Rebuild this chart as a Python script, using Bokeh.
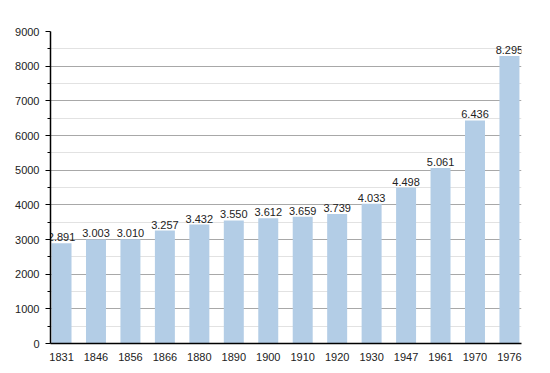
from bokeh.plotting import figure
from bokeh.models import ColumnDataSource, FixedTicker, Range1d
from bokeh.embed import file_html
from bokeh.resources import INLINE
from bokeh.core.properties import value

years = ["1831", "1846", "1856", "1866", "1880", "1890", "1900", "1910", "1920", "1930", "1947", "1961", "1970", "1976"]
population = [2891, 3003, 3010, 3257, 3432, 3550, 3612, 3659, 3739, 4033, 4498, 5061, 6436, 8295]
labels = ["2.891", "3.003", "3.010", "3.257", "3.432", "3.550", "3.612", "3.659", "3.739", "4.033", "4.498", "5.061", "6.436", "8.295"]
y_ticks = [0, 1000, 2000, 3000, 4000, 5000, 6000, 7000, 8000, 9000]

xs = list(range(len(years)))
src = ColumnDataSource(dict(x=xs, y=population, lab=labels))

FONT = "Liberation Sans"

p = figure(frame_width=471, frame_height=312, output_backend="svg", toolbar_location=None,
           x_range=Range1d(-0.32, 13.35), y_range=Range1d(0, 9000),
           min_border_left=50, min_border_top=31, min_border_right=15, min_border_bottom=22)
p.outline_line_color = None
p.background_fill_color = "white"

# grid
p.xgrid.grid_line_color = None
p.ygrid.grid_line_color = "#a8a8a8"
p.ygrid.grid_line_width = 1
p.ygrid.minor_grid_line_color = "#e2e2e2"

p.vbar(x="x", top="y", width=0.58, bottom=0, source=src, fill_color="#b3cde6", line_color=None)
p.text(x="x", y="y", text="lab", source=src, text_align="center", text_baseline="bottom",
       text_font=value(FONT), text_font_size="11px", text_color="#222222", y_offset=-2)

# y axis
p.yaxis.ticker = FixedTicker(ticks=y_ticks, minor_ticks=[500 + 1000 * i for i in range(9)])
p.yaxis.axis_line_color = "black"
p.yaxis.axis_line_width = 1.5
p.yaxis.major_tick_in = 0
p.yaxis.major_tick_out = 5
p.yaxis.minor_tick_in = 0
p.yaxis.minor_tick_out = 3
p.yaxis.major_tick_line_color = "black"
p.yaxis.minor_tick_line_color = "black"
p.yaxis.major_label_text_font = FONT
p.yaxis.major_label_text_font_size = "11px"
p.yaxis.major_label_text_color = "#222222"
p.yaxis.major_label_standoff = 6

# x axis
p.xaxis.ticker = FixedTicker(ticks=xs)
p.xaxis.major_label_overrides = {i: y for i, y in enumerate(years)}
p.xaxis.axis_line_color = "black"
p.xaxis.axis_line_width = 1.5
p.xaxis.major_tick_line_color = None
p.xaxis.minor_tick_line_color = None
p.xaxis.major_label_text_font = FONT
p.xaxis.major_label_text_font_size = "11px"
p.xaxis.major_label_text_color = "#222222"
p.xaxis.major_label_standoff = 3

open("out.html", "w").write(file_html(p, INLINE))
